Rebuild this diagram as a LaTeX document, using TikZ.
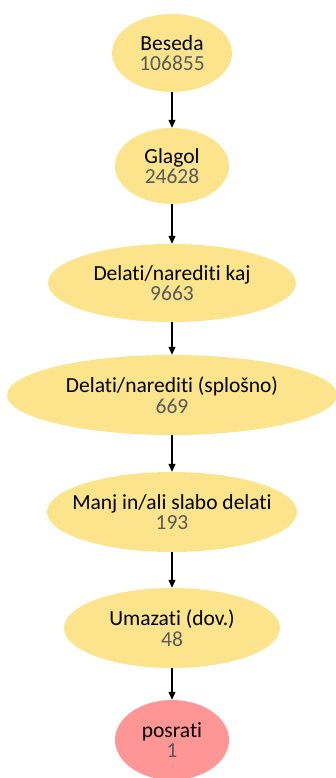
\documentclass[tikz,border=0pt]{standalone}
\usepackage{fontspec}
\setmainfont[Ligatures=NoCommon]{Carlito}
\usetikzlibrary{arrows.meta,shapes.geometric}
\definecolor{catfill}{RGB}{252,228,140}
\definecolor{leaffill}{RGB}{255,150,150}
\definecolor{countgray}{RGB}{90,90,90}
\tikzset{
  x=1pt,y=1pt,
  cat/.style={ellipse,fill=catfill,inner sep=0pt},
  leaf/.style={cat,fill=leaffill},
  lbl/.style={inner sep=0pt,align=center,font=\fontsize{21.5}{20.5}\selectfont},
  link/.style={draw=black,line width=1.1pt,-{Triangle[width=7pt,length=8pt]}},
}
\newcommand{\cnt}[1]{{\color{countgray}#1}}
\begin{document}
\begin{tikzpicture}
\useasboundingbox (0,0) rectangle (335,778);
% category ellipses, sized independently of their labels
\node[cat,minimum width=120,minimum height=78] (n1) at (172,725) {};
\node[cat,minimum width=114,minimum height=76] (n2) at (172,612) {};
\node[cat,minimum width=248,minimum height=78] (n3) at (172,495) {};
\node[cat,minimum width=330,minimum height=80] (n4) at (172,383) {};
\node[cat,minimum width=250,minimum height=80] (n5) at (172,266) {};
\node[cat,minimum width=216,minimum height=80] (n6) at (172,150) {};
\node[leaf,minimum width=114,minimum height=80] (n7) at (172,38) {};
% labels with counts
\node[lbl] (t1) at (n1) {Beseda\\\cnt{106855}};
\node[lbl] (t2) at (n2) {Glagol\\\cnt{24628}};
\node[lbl] (t3) at (n3) {Delati/narediti kaj\\\cnt{9663}};
\node[lbl] (t4) at (n4) {Delati/narediti (splošno)\\\cnt{669}};
\node[lbl] (t5) at (n5) {Manj in/ali slabo delati\\\cnt{193}};
\node[lbl] (t6) at (n6) {Umazati (dov.)\\\cnt{48}};
\node[lbl] (t7) at (n7) {posrati\\\cnt{1}};
\foreach \a/\b in {n1/n2,n2/n3,n3/n4,n4/n5,n5/n6,n6/n7}
  \draw[link] (\a.south) -- (\b.north);
\end{tikzpicture}
\end{document}
